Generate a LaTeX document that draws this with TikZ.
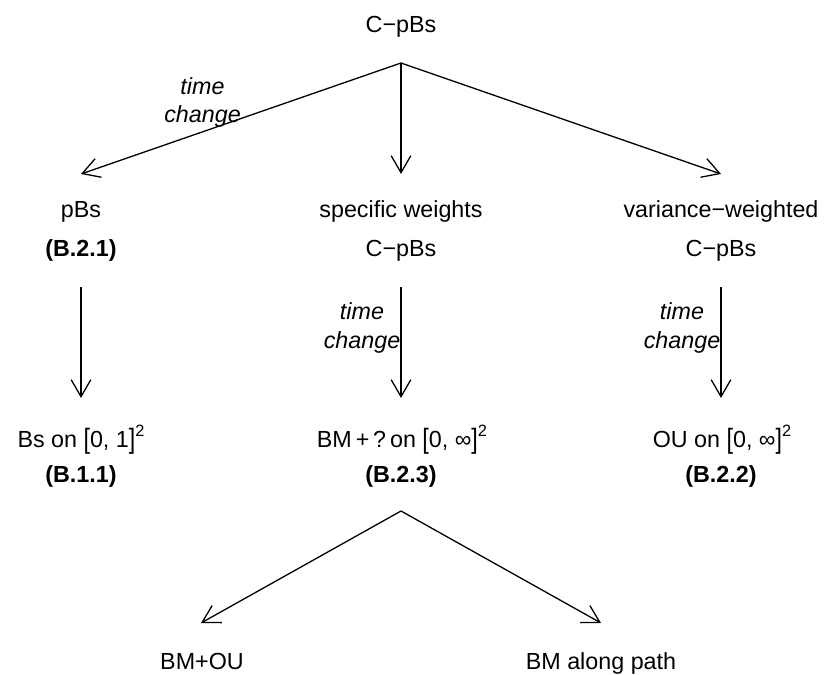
\documentclass[tikz,border=0pt]{standalone}
\usepackage{fontspec}
\usepackage{graphicx}
\setmainfont{Liberation Sans}
\usetikzlibrary{arrows.meta}
\newcommand\mysqtwo{\raisebox{5.5pt}{\fontsize{8.2}{9}\selectfont 2}}
\newcommand\mylbr{\raisebox{-0.6pt}{\scalebox{1}[1.2]{[}}}
\newcommand\myrbr{\raisebox{-0.6pt}{\scalebox{1}[1.2]{]}}}
\begin{document}
\begin{tikzpicture}[x=0.5pt,y=-0.5pt,
  lbl/.style={anchor=base, inner sep=0pt, font=\fontsize{11.65}{14}\selectfont},
  ref/.style={lbl, font=\fontsize{11.65}{14}\selectfont\bfseries},
  tc/.style={lbl, font=\fontsize{11.65}{14}\selectfont\itshape},
  conn/.style={-{Straight Barb[length=8.5pt,width=9.8pt]}, line width=0.65pt}]
\useasboundingbox (0,0) rectangle (825,675);
% top
\node[lbl] (top) at (401,32.7) {C−pBs};
\coordinate (a1) at (401,63);
\coordinate (t1) at (81,174);
\coordinate (t2) at (401,174);
\coordinate (t3) at (721,174);
\draw[conn] (a1) -- (t1);
\draw[conn] (a1) -- (t2);
\draw[conn] (a1) -- (t3);
\node[tc] (tc1a) at (202.5,94.3) {time};
\node[tc] (tc1b) at (202.5,122.7) {change};
% row 2
\node[lbl] (pbs) at (81,217) {pBs};
\node[ref] (b21) at (81,256) {(B.2.1)};
\node[lbl] (sw) at (401,217) {specific weights};
\node[lbl] (sw2) at (401,256) {C−pBs};
\node[lbl] (vw) at (721,217) {variance−weighted};
\node[lbl] (vw2) at (721,256) {C−pBs};
% vertical arrows
\coordinate (s1) at (81,287);
\coordinate (e1) at (81,398);
\coordinate (s2) at (401,287);
\coordinate (e2) at (401,398);
\coordinate (s3) at (721,287);
\coordinate (e3) at (721,398);
\draw[conn] (s1) -- (e1);
\draw[conn] (s2) -- (e2);
\draw[conn] (s3) -- (e3);
\node[tc] (tc2a) at (362,319.5) {time};
\node[tc] (tc2b) at (362,348) {change};
\node[tc] (tc3a) at (682,319.5) {time};
\node[tc] (tc3b) at (682,348) {change};
% row 3
\node[lbl] (bs) at (81,447) {Bs on \mylbr0, 1\myrbr\mysqtwo};
\node[ref] (b11) at (81,482) {(B.1.1)};
\node[lbl] (bm) at (402,447) {BM\,+\,?\,on \mylbr0, ∞\myrbr\mysqtwo};
\node[ref] (b23) at (401,482) {(B.2.3)};
\node[lbl] (ou) at (722,447) {OU on \mylbr0, ∞\myrbr\mysqtwo};
\node[ref] (b22) at (721,482) {(B.2.2)};
% bottom
\coordinate (a2) at (401,511);
\coordinate (t4) at (201,623);
\coordinate (t5) at (601,623);
\draw[conn] (a2) -- (t4);
\draw[conn] (a2) -- (t5);
\node[lbl] (bmou) at (202,669) {BM+OU};
\node[lbl] (bmpath) at (601,669) {BM along path};
\end{tikzpicture}
\end{document}
